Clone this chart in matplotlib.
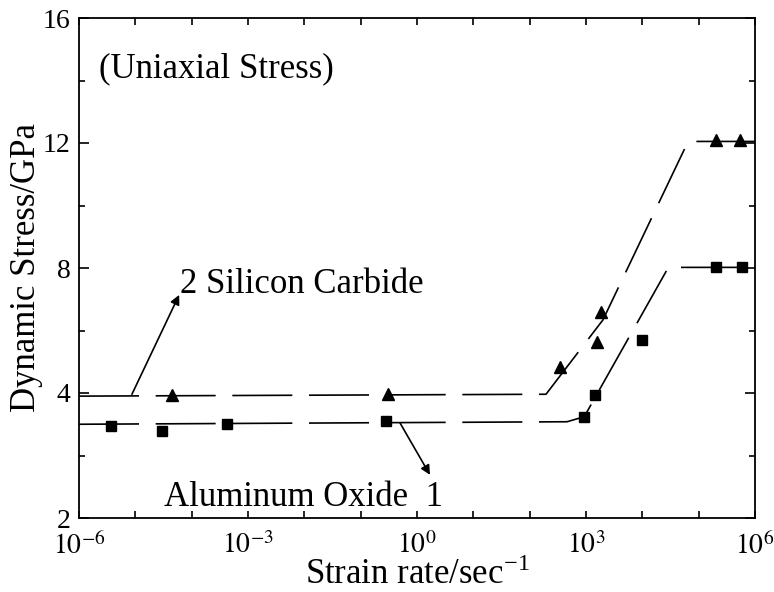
import numpy as np
import matplotlib
matplotlib.use('Agg')
import matplotlib.pyplot as plt
from matplotlib.ticker import FixedLocator, FuncFormatter

plt.rcParams['font.family'] = ['Liberation Serif', 'DejaVu Serif']
plt.rcParams['mathtext.fontset'] = 'stix'

# measured points
sic_rate = [4.5e-5, 0.31, 350, 1570, 1860, 2.0e5, 5.4e5]
sic_stress = [3.97, 3.98, 4.83, 5.63, 6.59, 12.1, 12.1]
al_rate = [3.7e-6, 3.0e-5, 4.3e-4, 0.28, 930, 1450, 9800, 2.0e5, 5.9e5]
al_stress = [3.47, 3.39, 3.50, 3.55, 3.62, 3.97, 5.70, 8.03, 8.03]

# fitted (dashed) curves
sic_fit_rate = [1e-6, 195, 2000, 6.5e4, 1e6]
sic_fit_stress = [3.95, 3.98, 6.34, 12.05, 12.05]
al_fit_rate = [1e-6, 460, 930, 2.9e4, 1e6]
al_fit_stress = [3.50, 3.54, 3.62, 8.02, 8.02]

y_ticks = [2, 4, 8, 12, 16]
y_minor = [3, 6, 10, 14]
y_pos = [0, 1, 2, 3, 4]


def fwd(v):
    return np.interp(v, y_ticks, y_pos)


def inv(p):
    return np.interp(p, y_pos, y_ticks)


fig = plt.figure(figsize=(7.74, 5.92), dpi=100)
ax = fig.add_axes([79 / 774, 1 - 518 / 592, 676 / 774, 500 / 592])
ax.set_xscale('log')
ax.set_yscale('function', functions=(fwd, inv))

dash = (36, 10)
ax.plot(sic_fit_rate, sic_fit_stress, color='black', lw=1.2, dashes=dash)
ax.plot(al_fit_rate, al_fit_stress, color='black', lw=1.2, dashes=dash)
ax.plot(sic_rate, sic_stress, ls='none', marker='^', ms=8, color='black')
ax.plot(al_rate, al_stress, ls='none', marker='s', ms=6.5, color='black')

ax.set_xlim(1e-6, 1e6)
ax.set_ylim(2, 16)

ax.xaxis.set_major_locator(FixedLocator([10.0 ** k for k in range(-6, 7)]))
ax.xaxis.set_minor_locator(FixedLocator([]))
ax.xaxis.set_major_formatter(FuncFormatter(
    lambda v, p: r'$10^{%d}$' % round(np.log10(v)) if round(np.log10(v)) % 3 == 0 else ''))
ax.yaxis.set_major_locator(FixedLocator(y_ticks))
ax.yaxis.set_minor_locator(FixedLocator(y_minor))
ax.yaxis.set_major_formatter(FuncFormatter(lambda v, p: '%d' % v))
ax.yaxis.set_minor_formatter(FuncFormatter(lambda v, p: ''))

ax.tick_params(which='both', direction='in', top=True, right=True, labelsize=20, width=1.2)
ax.tick_params(axis='x', which='major', length=5, pad=10)
ax.tick_params(axis='y', which='major', length=7, pad=6)
ax.tick_params(axis='y', which='minor', length=4)
for s in ax.spines.values():
    s.set_linewidth(1.3)

ax.set_xlabel(r'Strain rate/sec$^{\mathregular{-1}}$', fontsize=25, labelpad=-1)
ax.set_ylabel('Dynamic Stress/GPa', fontsize=25, labelpad=0)

ax.text(2.3e-6, 14.1, '(Uniaxial Stress)', fontsize=25, va='baseline')
ax.text(6.2e-5, 7.2, '2 Silicon Carbide', fontsize=25, va='baseline')
ax.text(3.2e-5, 2.19, 'Aluminum Oxide  1', fontsize=25, va='baseline')

arrow = dict(arrowstyle='-|>', color='black', lw=1.2, mutation_scale=14, shrinkA=0, shrinkB=0)
ax.annotate('', xy=(6.0e-5, 7.14), xytext=(8.7e-6, 3.98), arrowprops=arrow)
ax.annotate('', xy=(1.7, 2.69), xytext=(0.5, 3.52), arrowprops=arrow)

fig.savefig('out.png', dpi=100)
